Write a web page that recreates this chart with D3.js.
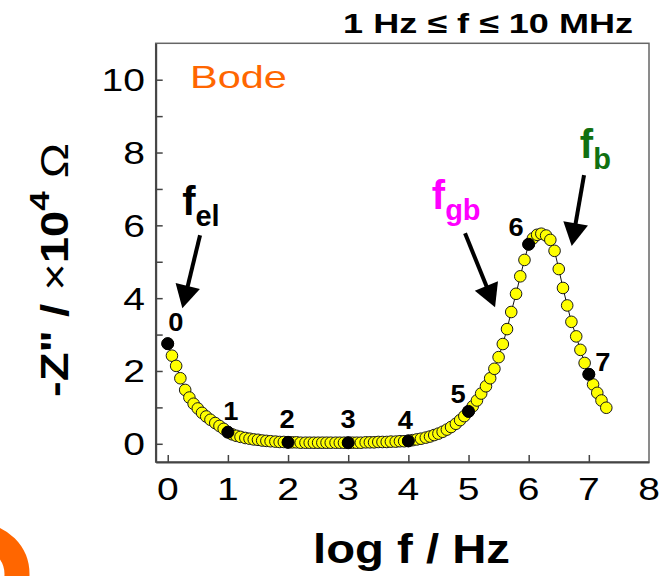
<!DOCTYPE html>
<html>
<head>
<meta charset="utf-8">
<script src="https://cdn.jsdelivr.net/npm/d3@7"></script>
<style>
  html, body { margin: 0; padding: 0; background: #fff; }
  svg { display: block; font-family: "Liberation Sans", Arial, Helvetica, sans-serif; }
</style>
</head>
<body>
<svg id="chart" width="666" height="576"></svg>
<script>
// Impedance spectrum: log10(f / Hz), 14 points per decade
const logF = [
  0.00, 0.07, 0.14, 0.21, 0.29, 0.36, 0.43, 0.50, 0.57, 0.64, 0.71, 0.79, 0.86, 0.93,
  1.00, 1.07, 1.14, 1.21, 1.29, 1.36, 1.43, 1.50, 1.57, 1.64, 1.71, 1.79, 1.86, 1.93,
  2.00, 2.07, 2.14, 2.21, 2.29, 2.36, 2.43, 2.50, 2.57, 2.64, 2.71, 2.79, 2.86, 2.93,
  3.00, 3.07, 3.14, 3.21, 3.29, 3.36, 3.43, 3.50, 3.57, 3.64, 3.71, 3.79, 3.86, 3.93,
  4.00, 4.07, 4.14, 4.21, 4.29, 4.36, 4.43, 4.50, 4.57, 4.64, 4.71, 4.79, 4.86, 4.93,
  5.00, 5.07, 5.14, 5.21, 5.29, 5.36, 5.43, 5.50, 5.57, 5.64, 5.71, 5.79, 5.86, 5.93,
  6.00, 6.07, 6.14, 6.21, 6.29, 6.36, 6.43, 6.50, 6.57, 6.64, 6.71, 6.79, 6.86, 6.93,
  7.00, 7.07, 7.14, 7.21, 7.29
];
// -Z'' in units of 10^4 ohm
const negZ = [
  2.75, 2.42, 2.14, 1.80, 1.48, 1.27, 1.10, 0.97, 0.85, 0.75, 0.66, 0.57, 0.49, 0.41,
  0.32, 0.26, 0.22, 0.19, 0.16, 0.14, 0.12, 0.11, 0.09, 0.08, 0.07, 0.06, 0.05, 0.05,
  0.04, 0.04, 0.04, 0.03, 0.03, 0.03, 0.03, 0.03, 0.03, 0.03, 0.03, 0.03, 0.03, 0.03,
  0.03, 0.03, 0.03, 0.03, 0.04, 0.04, 0.04, 0.05, 0.05, 0.05, 0.06, 0.06, 0.07, 0.07,
  0.08, 0.10, 0.12, 0.14, 0.17, 0.20, 0.24, 0.28, 0.33, 0.39, 0.46, 0.55, 0.65, 0.76,
  0.89, 1.03, 1.19, 1.38, 1.58, 1.80, 2.06, 2.38, 2.74, 3.15, 3.62, 4.12, 4.60, 5.05,
  5.48, 5.64, 5.74, 5.77, 5.72, 5.60, 5.30, 4.80, 4.28, 3.80, 3.35, 2.95, 2.58, 2.22,
  1.91, 1.63, 1.40, 1.19, 0.99
];
// Whole decades, highlighted and numbered
const decades = [0, 1, 2, 3, 4, 5, 6, 7];
const decadeLabels = ["0", "1", "2", "3", "4", "5", "6", "7"];
const xTickValues = [0, 1, 2, 3, 4, 5, 6, 7, 8];
const yMajorTicks = [0, 2, 4, 6, 8, 10];
const yMinorTicks = [1, 3, 5, 7, 9];
const titleText = "1 Hz \u2264 f \u2264 10 MHz";
const panelText = "Bode";
const xTitleText = "log f / Hz";

// Relaxation labels with arrows (data coordinates)
const relaxations = [
  { sub: "el", color: "#000000", at: [0.24, 6.28], from: [0.537, 5.73], to: [0.243, 3.72] },
  { sub: "gb", color: "#FF00FF", at: [4.39, 6.45], from: [4.942, 5.78], to: [5.441, 3.75] },
  { sub: "b",  color: "#117011", at: [6.85, 7.85], from: [6.920, 7.38], to: [6.715, 5.43] }
];

// ---- layout ----
const svg = d3.select("#chart");
const frame = { left: 155.7, right: 649, top: 43.3, bottom: 462 };
const x = d3.scaleLinear().domain([-0.2, 8]).range([frame.left, frame.right]);
const y = d3.scaleLinear().domain([-0.5, 11]).range([frame.bottom, frame.top]);
const axisColor = "#444";
const labelStretch = 1.22;
// offsets of the decade numbers from their markers (px)
const decadeLabelOffsets = [[8, -13], [3, -12], [-1, -14], [0, -15], [-3, -12], [-10.5, -8], [-12.6, -8], [14, -3]];

// decorative ring in the lower-left corner
svg.append("circle")
  .attr("cx", -21).attr("cy", 574).attr("r", 38)
  .attr("fill", "none").attr("stroke", "#FF6600").attr("stroke-width", 25);

// plot frame
svg.append("rect")
  .attr("x", frame.left).attr("y", frame.top)
  .attr("width", frame.right - frame.left).attr("height", frame.bottom - frame.top)
  .attr("fill", "none").attr("stroke", "#666").attr("stroke-width", 1.5);

// axes with inward ticks
const xAxis = d3.axisBottom(x).tickValues(xTickValues.slice(0, -1)).tickSizeInner(-7).tickSizeOuter(0).tickFormat("");
const gx = svg.append("g").attr("transform", `translate(0,${frame.bottom})`).call(xAxis);
const yAxis = d3.axisLeft(y).tickValues(yMajorTicks.concat(yMinorTicks)).tickSizeInner(-7).tickSizeOuter(0).tickFormat("");
const gy = svg.append("g").attr("transform", `translate(${frame.left},0)`).call(yAxis);
[gx, gy].forEach(g => {
  g.select(".domain").attr("stroke", axisColor).attr("stroke-width", 2);
  g.selectAll(".tick line").attr("stroke", axisColor).attr("stroke-width", 1.5);
});

// stretched text helper
function stretchedText(parent, px, py, str, opts) {
  const g = parent.append("g");
  const t = g.append("text")
    .attr("text-anchor", opts.anchor || "start")
    .attr("font-size", opts.size)
    .attr("font-weight", opts.weight || "normal")
    .attr("fill", opts.color || "#000")
    .text(str);
  let sx = opts.sx || 1;
  if (opts.width) sx = opts.width / t.node().getComputedTextLength();
  g.attr("transform", `translate(${px},${py})${opts.rotate ? " rotate(-90)" : ""} scale(${sx},1)`);
  return t;
}

// tick labels
xTickValues.forEach(v => {
  stretchedText(svg, x(v), 500, String(v), { size: 32, anchor: "middle", sx: labelStretch });
});
yMajorTicks.forEach(v => {
  stretchedText(svg, 145, y(v) + 11.5, String(v), { size: 32, anchor: "end", sx: labelStretch });
});

// axis titles
stretchedText(svg, 411.5, 563, xTitleText, { size: 41, weight: "bold", anchor: "middle", width: 197 });

(function yTitle() {
  const g = svg.append("g");
  const t = g.append("text").attr("text-anchor", "middle").attr("font-size", 38).attr("font-weight", "bold");
  t.append("tspan").text("-Z\" / ");
  t.append("tspan").attr("font-weight", "normal").text("\u00d7");
  t.append("tspan").text("10");
  t.append("tspan").attr("font-size", 28).attr("dy", -19).text("4");
  t.append("tspan").attr("font-weight", "normal").attr("dy", 19).text(" \u03a9");
  const sx = 254 / t.node().getComputedTextLength();
  g.attr("transform", `translate(68,270) rotate(-90) scale(${sx},1)`);
})();

// header and panel label
stretchedText(svg, 633, 33, titleText, { size: 28, weight: "bold", anchor: "end", width: 290 });
stretchedText(svg, x(0.37), y(9.77), panelText, { size: 32, color: "#FF6600", width: 97 });

// data line and markers
const pts = logF.map((f, i) => ({ f, z: negZ[i] }));
svg.append("path")
  .datum(pts)
  .attr("fill", "none").attr("stroke", "#111").attr("stroke-width", 1)
  .attr("d", d3.line().x(d => x(d.f)).y(d => y(d.z)));

svg.append("g").selectAll("circle").data(pts).join("circle")
  .attr("cx", d => x(d.f)).attr("cy", d => y(d.z)).attr("r", 5.8)
  .attr("fill", "#FFFF00").attr("stroke", "#1a1a1a").attr("stroke-width", 1);

const decadePts = decades.map(dv => pts[logF.findIndex(f => Math.abs(f - dv) < 1e-9)]);
svg.append("g").selectAll("circle").data(decadePts).join("circle")
  .attr("cx", d => x(d.f)).attr("cy", d => y(d.z)).attr("r", 6)
  .attr("fill", "#000").attr("stroke", "#000").attr("stroke-width", 1);

decadePts.forEach((d, i) => {
  const [dx, dy] = decadeLabelOffsets[i];
  stretchedText(svg, x(d.f) + dx, y(d.z) + dy, decadeLabels[i], { size: 26, weight: "bold", anchor: "middle", sx: 1.05 });
});

// relaxation labels and arrows
relaxations.forEach(r => {
  const t = svg.append("text")
    .attr("x", x(r.at[0])).attr("y", y(r.at[1]))
    .attr("font-weight", "bold").attr("fill", r.color);
  t.append("tspan").attr("font-size", 40).text("f");
  t.append("tspan").attr("font-size", 29).attr("dy", 11).text(r.sub);

  const x0 = x(r.from[0]), y0 = y(r.from[1]);
  const x1 = x(r.to[0]), y1 = y(r.to[1]);
  const len = Math.hypot(x1 - x0, y1 - y0);
  const ux = (x1 - x0) / len, uy = (y1 - y0) / len;
  const headLen = 23, headHalf = 12.5;
  const bx = x1 - ux * headLen, by = y1 - uy * headLen;
  svg.append("line")
    .attr("x1", x0).attr("y1", y0).attr("x2", bx + ux * 2).attr("y2", by + uy * 2)
    .attr("stroke", "#000").attr("stroke-width", 4);
  svg.append("path")
    .attr("d", `M${x1},${y1}L${bx - uy * headHalf},${by + ux * headHalf}L${bx + uy * headHalf},${by - ux * headHalf}Z`)
    .attr("fill", "#000");
});
</script>
</body>
</html>
